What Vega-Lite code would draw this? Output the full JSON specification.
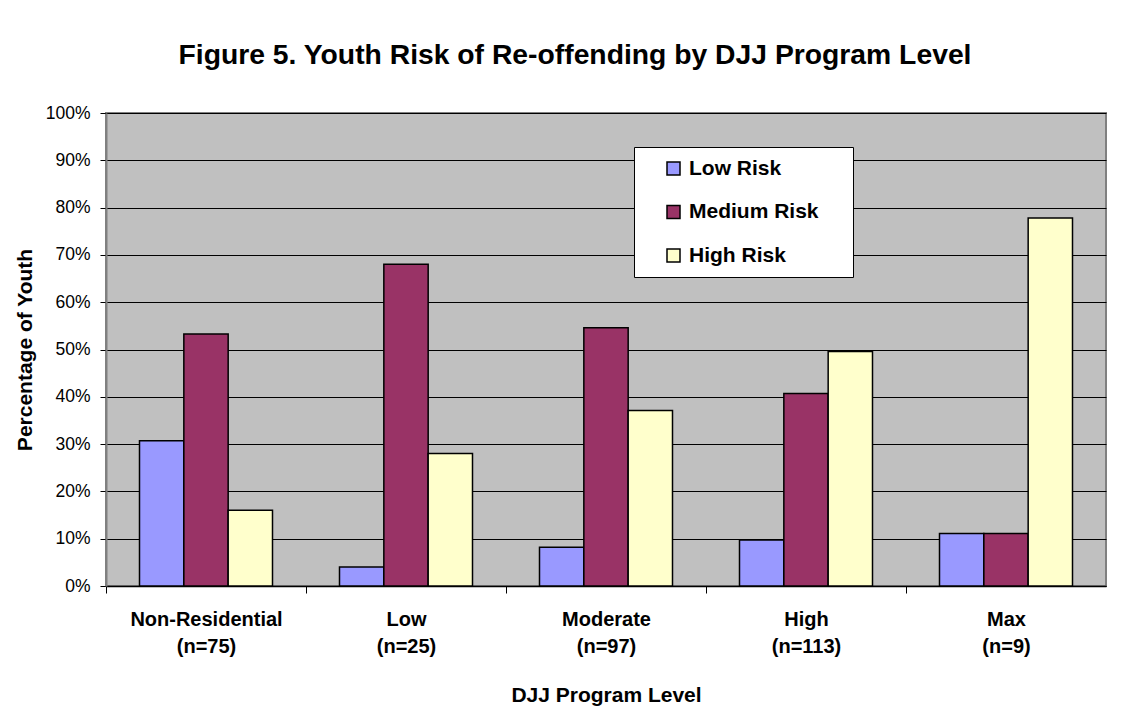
{
  "$schema": "https://vega.github.io/schema/vega-lite/v6.json",
  "width": 1000,
  "height": 473,
  "autosize": {"type": "none"},
  "padding": {"left": 106, "top": 113, "right": 24, "bottom": 135},
  "background": "white",
  "title": {
    "text": "Figure 5. Youth Risk of Re-offending by DJJ Program Level",
    "font": "Liberation Sans",
    "fontSize": 28.3,
    "fontWeight": "bold",
    "color": "black",
    "anchor": "middle",
    "dx": -31,
    "offset": 34
  },
  "data": {
    "values": [
      {"level": "Non-Residential|(n=75)", "risk": "Low Risk", "pct": 0.307},
      {"level": "Non-Residential|(n=75)", "risk": "Medium Risk", "pct": 0.533},
      {"level": "Non-Residential|(n=75)", "risk": "High Risk", "pct": 0.16},
      {"level": "Low|(n=25)", "risk": "Low Risk", "pct": 0.04},
      {"level": "Low|(n=25)", "risk": "Medium Risk", "pct": 0.68},
      {"level": "Low|(n=25)", "risk": "High Risk", "pct": 0.28},
      {"level": "Moderate|(n=97)", "risk": "Low Risk", "pct": 0.082},
      {"level": "Moderate|(n=97)", "risk": "Medium Risk", "pct": 0.546},
      {"level": "Moderate|(n=97)", "risk": "High Risk", "pct": 0.371},
      {"level": "High|(n=113)", "risk": "Low Risk", "pct": 0.097},
      {"level": "High|(n=113)", "risk": "Medium Risk", "pct": 0.407},
      {"level": "High|(n=113)", "risk": "High Risk", "pct": 0.496},
      {"level": "Max|(n=9)", "risk": "Low Risk", "pct": 0.111},
      {"level": "Max|(n=9)", "risk": "Medium Risk", "pct": 0.111},
      {"level": "Max|(n=9)", "risk": "High Risk", "pct": 0.778}
    ]
  },
  "mark": {"type": "bar", "stroke": "black", "strokeWidth": 1.5},
  "encoding": {
    "x": {
      "field": "level",
      "type": "nominal",
      "sort": null,
      "scale": {"paddingInner": 0.335, "paddingOuter": 0.1675},
      "axis": {
        "title": "DJJ Program Level",
        "titleFont": "Liberation Sans",
        "titleFontSize": 21,
        "titleFontWeight": "bold",
        "titleColor": "black",
        "titlePadding": 28,
        "labelExpr": "split(datum.label, '|')",
        "labelFont": "Liberation Sans",
        "labelFontSize": 20,
        "labelFontWeight": "bold",
        "labelColor": "black",
        "labelAngle": 0,
        "labelPadding": 16,
        "labelLineHeight": 27,
        "tickOffset": -100,
        "labelOffset": 100,
        "tickSize": 7,
        "tickColor": "black",
        "domainColor": "black",
        "domainWidth": 1.5
      }
    },
    "xOffset": {"field": "risk", "type": "nominal", "sort": ["Low Risk", "Medium Risk", "High Risk"], "scale": {"paddingInner": 0, "paddingOuter": 0}},
    "y": {
      "field": "pct",
      "type": "quantitative",
      "scale": {"domain": [0, 1], "nice": false},
      "axis": {
        "title": "Percentage of Youth",
        "titleFont": "Liberation Sans",
        "titleFontSize": 21,
        "titleFontWeight": "bold",
        "titleColor": "black",
        "titlePadding": 10,
        "format": ".0%",
        "values": [0, 0.1, 0.2, 0.3, 0.4, 0.5, 0.6, 0.7, 0.8, 0.9, 1],
        "labelFont": "Liberation Sans",
        "labelFontSize": 17.5,
        "labelColor": "black",
        "labelPadding": 10,
        "tickSize": 6,
        "tickColor": "black",
        "domainColor": "#808080",
        "domainWidth": 2,
        "grid": true,
        "gridColor": "black",
        "gridWidth": 1
      }
    },
    "color": {
      "field": "risk",
      "type": "nominal",
      "sort": ["Low Risk", "Medium Risk", "High Risk"],
      "scale": {"domain": ["Low Risk", "Medium Risk", "High Risk"], "range": ["#9999FF", "#993366", "#FFFFCC"]},
      "legend": {
        "title": null,
        "orient": "none",
        "legendX": 528,
        "legendY": 34,
        "fillColor": "white",
        "strokeColor": "black",
        "padding": 11,
        "symbolOffset": 18,
        "symbolType": "square",
        "symbolSize": 169,
        "symbolStrokeColor": "black",
        "symbolStrokeWidth": 1.5,
        "labelFont": "Liberation Sans",
        "labelFontSize": 21,
        "labelFontWeight": "bold",
        "labelColor": "black",
        "labelOffset": 5,
        "labelExpr": "datum.label + '    \u200b'",
        "rowPadding": 21.5
      }
    }
  },
  "config": {
    "view": {"fill": "#C0C0C0", "stroke": "#808080", "strokeWidth": 2}
  }
}
